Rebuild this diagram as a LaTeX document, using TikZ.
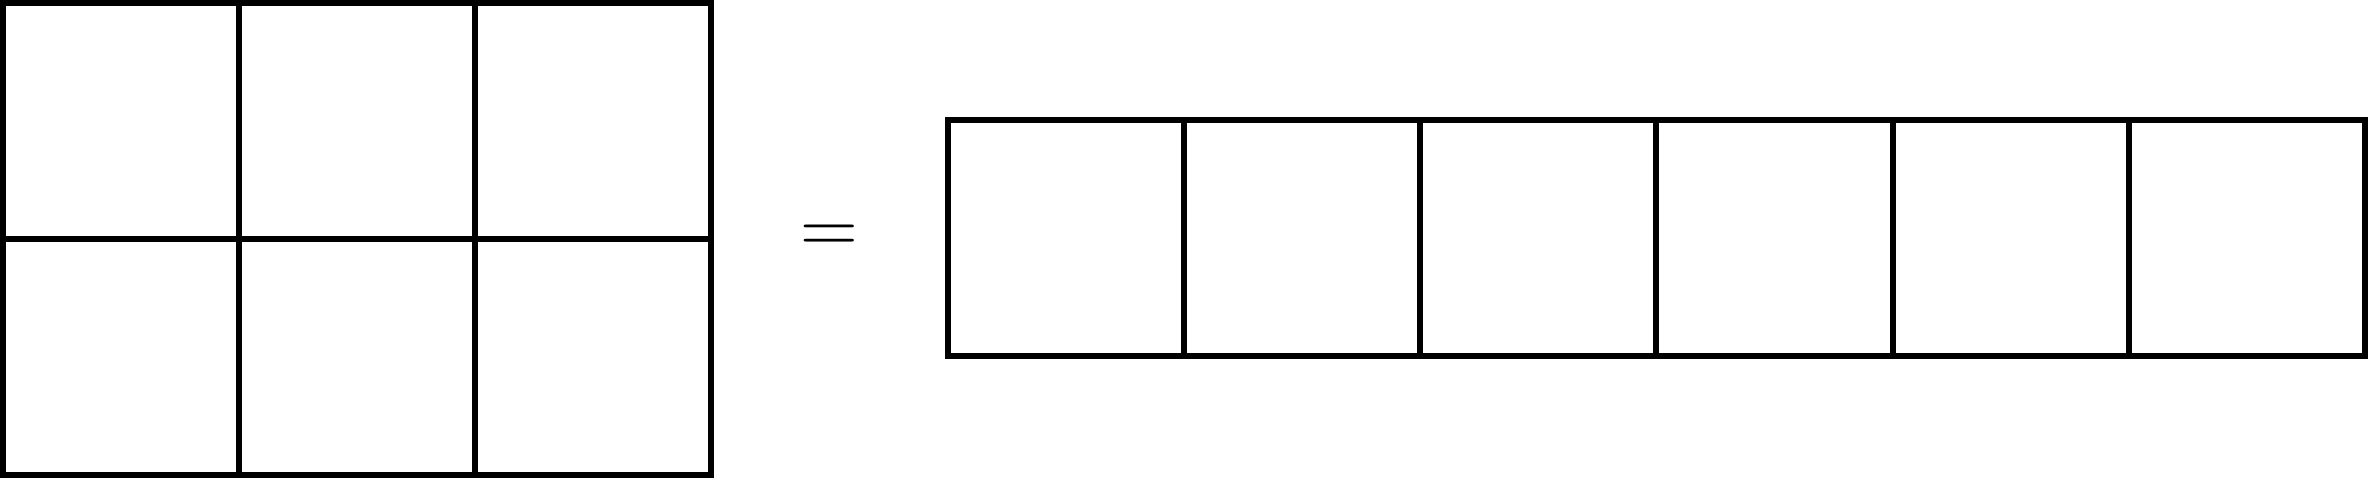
\documentclass[tikz,border=0pt]{standalone}
\begin{document}
\begin{tikzpicture}[x=0.5pt,y=-0.5pt,
  cell/.style={draw=black,line width=3pt,minimum width=118pt,minimum height=118pt,inner sep=0pt,outer sep=0pt,fill=none},
  eqsign/.style={inner sep=0pt,font=\fontsize{40}{40}\selectfont}]
\useasboundingbox (0,0) rectangle (2368,478);
\foreach \c in {0,1,2}{
  \foreach \r in {0,1}{
    \node[cell] (L\r\c) at ({121+236*\c},{121+236*\r}) {};
  }
}
\foreach \c in {0,...,5}{
  \node[cell,minimum width=118.1pt] (R\c) at ({1065.8+236.2*\c},238.4) {};
}
\node[eqsign] (eq) at (829,239) {=};
\end{tikzpicture}
\end{document}
